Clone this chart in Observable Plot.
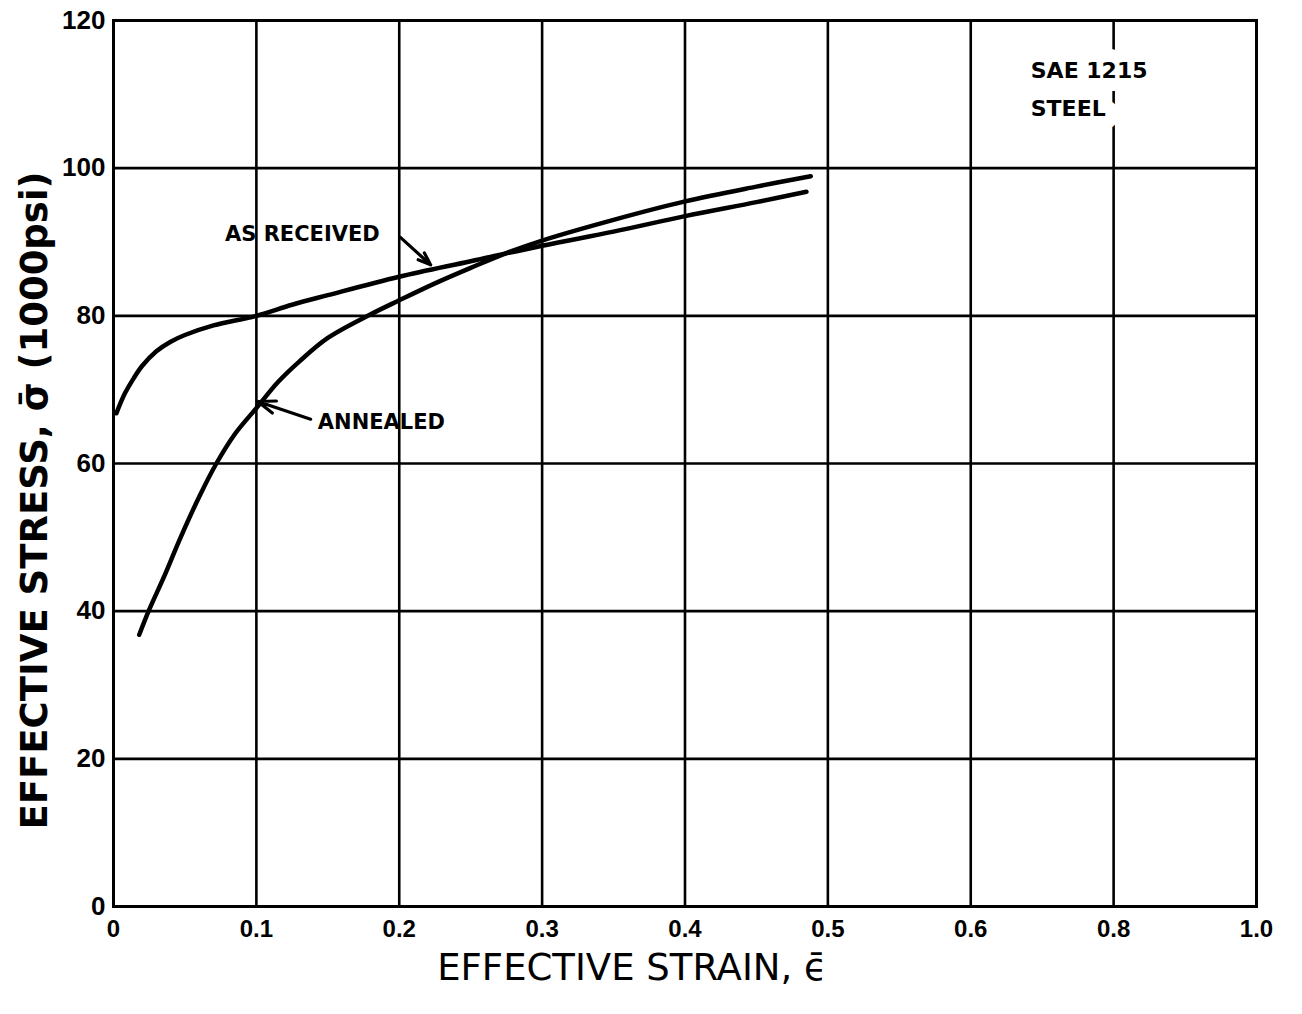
<!DOCTYPE html>
<html>
<head>
<meta charset="utf-8">
<script src="https://cdn.jsdelivr.net/npm/d3@7"></script>
<script src="https://cdn.jsdelivr.net/npm/@observablehq/plot@0.6"></script>
<style>
  html, body { margin: 0; padding: 0; background: #fff; }
  #chart { width: 1302px; height: 1014px; }
</style>
</head>
<body>
<div id="chart"></div>
<script>
// Tick positions (uniform grid) and the labels printed on the original chart
const xTicks = [0, 0.1, 0.2, 0.3, 0.4, 0.5, 0.6, 0.7, 0.8];
const xTickLabels = ["0", "0.1", "0.2", "0.3", "0.4", "0.5", "0.6", "0.8", "1.0"];
const yTicks = [0, 20, 40, 60, 80, 100, 120];

// Effective strain / effective stress (1000 psi)
const asReceivedStrain = [0.002, 0.008, 0.014, 0.02, 0.03, 0.04, 0.05, 0.07, 0.1, 0.125, 0.15, 0.2, 0.25, 0.3, 0.35, 0.4, 0.45, 0.485];
const asReceivedStress = [66.8, 69.5, 71.5, 73.2, 75.2, 76.5, 77.4, 78.7, 80.0, 81.5, 82.8, 85.3, 87.4, 89.5, 91.4, 93.5, 95.4, 96.8];

const annealedStrain = [0.018, 0.025, 0.035, 0.047, 0.06, 0.072, 0.085, 0.1, 0.115, 0.13, 0.15, 0.18, 0.2, 0.225, 0.25, 0.275, 0.3, 0.35, 0.4, 0.45, 0.488];
const annealedStress = [36.8, 40.2, 44.5, 50.0, 55.5, 60.0, 64.0, 67.5, 71.0, 73.8, 77.0, 80.2, 82.1, 84.4, 86.5, 88.5, 90.2, 93.0, 95.5, 97.5, 98.9];

// Annotations
const labelNames = ["AS RECEIVED", "ANNEALED"];
const labelX = [0.078, 0.143];
const labelY = [91.0, 65.6];
const arrowX1 = [0.201, 0.138];
const arrowY1 = [90.6, 66.0];
const arrowX2 = [0.222, 0.101];
const arrowY2 = [86.9, 68.4];
const noteLines = ["SAE 1215", "STEEL"];
const noteX = [0.642, 0.642];
const noteY = [113.2, 108.0];

const asReceived = asReceivedStrain.map((x, i) => ({x, y: asReceivedStress[i]}));
const annealed = annealedStrain.map((x, i) => ({x, y: annealedStress[i]}));
const labels = labelNames.map((t, i) => ({t, x: labelX[i], y: labelY[i]}));
const arrows = arrowX1.map((x1, i) => ({x1, y1: arrowY1[i], x2: arrowX2[i], y2: arrowY2[i]}));
const notes = noteLines.map((t, i) => ({t, x: noteX[i], y: noteY[i]}));

const font = "'Liberation Sans', Arial, sans-serif";
const labelFont = "'DejaVu Sans', sans-serif";

const plot = Plot.plot({
  width: 1302,
  height: 1014,
  marginLeft: 113,
  marginRight: 46,
  marginTop: 20,
  marginBottom: 108,
  style: {fontFamily: font, fontSize: "24px", fontWeight: "bold", color: "#000", background: "#fff"},
  x: {domain: [0, 0.8]},
  y: {domain: [0, 120]},
  marks: [
    Plot.gridX(xTicks, {stroke: "#000", strokeOpacity: 1, strokeWidth: 2.6}),
    Plot.gridY(yTicks, {stroke: "#000", strokeOpacity: 1, strokeWidth: 2.6}),
    Plot.frame({stroke: "#000", strokeWidth: 3}),
    Plot.axisX(xTicks, {tickSize: 0, tickPadding: 13, label: null, tickFormat: (d, i) => xTickLabels[i], fontSize: 24, fontWeight: "bold"}),
    Plot.axisY(yTicks, {tickSize: 0, tickPadding: 8, label: null, fontSize: 26, fontWeight: "bold"}),
    Plot.text(notes, {x: "x", y: "y", text: "t", textAnchor: "start", fontFamily: labelFont, fontSize: 22, fontWeight: "bold", stroke: "#fff", strokeWidth: 26, fill: "#fff"}),
    Plot.text(notes, {x: "x", y: "y", text: "t", textAnchor: "start", fontFamily: labelFont, fontSize: 22, fontWeight: "bold", fill: "#000"}),
    Plot.line(asReceived, {x: "x", y: "y", curve: "catmull-rom", stroke: "#000", strokeWidth: 4.5}),
    Plot.line(annealed, {x: "x", y: "y", curve: "catmull-rom", stroke: "#000", strokeWidth: 4.5}),
    Plot.arrow(arrows, {x1: "x1", y1: "y1", x2: "x2", y2: "y2", stroke: "#000", strokeWidth: 3.2, headLength: 16, headAngle: 40}),
    Plot.text(labels, {x: "x", y: "y", text: "t", textAnchor: "start", fontFamily: labelFont, fontSize: 21, fontWeight: "bold", fill: "#000"}),
    Plot.text(["EFFECTIVE STRAIN, ϵ̄"], {frameAnchor: "bottom", textAnchor: "middle", lineAnchor: "middle", dy: 62, dx: -53, fontFamily: labelFont, fontSize: 37, fontWeight: "normal", fill: "#000"}),
    Plot.text(["EFFECTIVE STRESS, σ̄ (1000psi)"], {frameAnchor: "left", textAnchor: "middle", lineAnchor: "middle", dx: -78, dy: 37, rotate: -90, fontFamily: labelFont, fontSize: 37, fontWeight: "bold", fill: "#000"})
  ]
});
document.getElementById("chart").appendChild(plot);
</script>
</body>
</html>
